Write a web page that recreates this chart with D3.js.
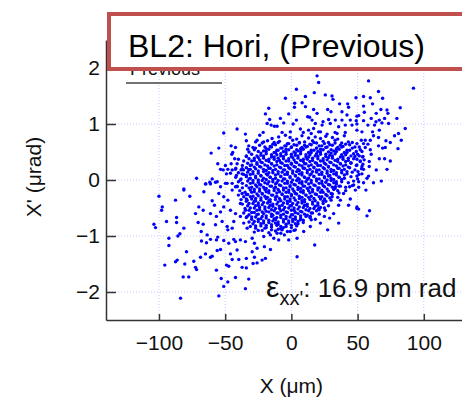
<!DOCTYPE html>
<html>
<head>
<meta charset="utf-8">
<script src="https://cdn.jsdelivr.net/npm/d3@7"></script>
<style>
  body { margin: 0; background: #fff; }
  svg { display: block; font-family: "Liberation Sans", Arial, sans-serif; }
</style>
</head>
<body>
<div id="container"></div>
<script>
const width = 462;
const height = 398;

const xTicks = [-100, -50, 0, 50, 100];
const yTicks = [-2, -1, 0, 1, 2];
const titleText = "BL2: Hori, (Previous)";
const legendText = "Previous";
const emittanceText = ": 16.9 pm rad";

// scattered points, [x (um), x' (urad)]
const outerPoints = [
  [-51.1,.84],[-41,.91],[-34.7,.82],[-34,.70],[-54.8,.57],[-60.6,.48],[-45.5,.61],[-42.2,.58],[-44.3,.49],[-45,.46],
  [-32.2,.61],[-33,.55],[-34,.43],[-42.8,.38],[-55.6,.29],[-49.8,.26],[-45.5,.29],[-53.5,.19],[-51.5,.18],[-48,.19],
  [-44.7,.18],[-42.2,.19],[-37.2,.20],[-36.2,.18],[-32.2,.19],[-49,.11],[-46,.12],[-41.5,.08],[-37.2,.11],[-34,.08],
  [-71.6,.03],[-59.8,.02],[-64.9,-.07],[-61.6,-.04],[-57.3,-.04],[-81.2,-.16],[-53.5,-.12],[-48.5,-.06],[-44.7,-.06],
  [-38.5,0],[-42.2,-.12],
  [-100,-.29],[-81.2,-.18],[-76.7,-.29],[-87.5,-.36],[-97.5,-.48],[-98,-.54],[-103.8,-.79],[-102.6,-.85],[-94.3,-.74],
  [-86.7,-.67],[-86.7,-.76],[-81.2,-.86],[-84.2,-.96],[-85.7,-1.0],[-92.5,-1.04],[-92.5,-1.17],[-95.6,-1.52],[-87.5,-1.46],
  [-86.2,-1.43],[-80.5,-1.5],[-79.2,-1.28],[-73.7,-1.45],[-72.4,-1.56],[-71.6,-1.6],[-81.7,-1.73],[-77.5,-1.73],
  [-83.7,-2.11],[-68.6,-1.38],[-64.9,-1.32],[-61.1,-1.38],[-59.8,-1.36],[-56,-1.26],[-53.5,-1.24],[-56.6,-1.61],
  [-53,-1.76],[-51.1,-1.9],[-54.8,-2.07],[-48,-1.82],[-42.2,-1.74],[-49,-1.52],[-47.3,-1.54],[-46,-1.32],[-44.7,-1.42],
  [-39.7,-1.42],[-37.2,-1.56],[-34,-1.40],[-34,-1.57],[-32.2,-1.77],[-34.7,-1.94],[-67.9,-1.09],[-64.1,-1.12],
  [-61.1,-1.06],[-56.6,-1.07],[-55.6,-1.02],[-68.1,-.92],[-63.6,-.98],[-70.4,-.76],[-66.6,-.79],[-72.4,-.60],
  [-69.9,-.48],[-66.6,-.54],[-66.1,-.21],[-61.1,-.07],[-64.6,-.07],[-59.8,-.37],[-58.1,-.45],[-61.1,-.60],[-56.6,-.65],
  [-53.5,-.57],[-51.1,-.48],[-52.3,-.74],[-57.3,-.80],[-48.5,-.83],[-48,-.89],[-44.7,-.86],[-43.5,-.74],[-51.1,-1.08],
  [-47.3,-1.13],[-43.5,-1.06],[-42.2,-1.10],[-38.5,-1.07],[-34.7,-1.10],[-41,-1.25],[-54.8,-.24],[-51.1,-.30],
  [-48,-.36],[-46,-.54],[-42.2,-.60],[-38.5,-.65],[-36,-.77],[-33.4,-.86],[-44.7,-.18],[-41,-.12],[-37.2,-.24],
  [-33.4,-.36],[-38.5,-.42],[-34.7,-.54],[-33.4,-.65],[-56,-.03],[-49.8,-.06],
  [19.4,1.86],[20.6,1.74],[3.8,1.62],[17.3,1.56],[10.6,1.49],[25.6,1.52],[30.7,1.50],[31.4,1.44],[-4.5,1.46],[2.5,1.37],
  [8.1,1.38],[36.4,1.36],[42.5,1.36],[43.2,1.30],[-17.1,1.28],[-19.6,1.18],[2.3,1.30],[10.6,1.31],[16.8,1.26],[19.4,1.19],
  [27.4,1.26],[29.9,1.22],[38.2,1.22],[42,1.16],[49.5,1.14],[-2,1.18],[12.3,1.13],[13.8,1.12],[-16.4,1.08],[-8.3,1.10],
  [-5.8,1.02],[3.8,1.07],[15.6,1.07],[18.1,1.01],[23.9,1.04],[28.1,1.08],[33.2,1.07],[38.2,1.07],[44.5,1.07],[49,1.06],
  [23.2,.98],[29.4,1.01],[35.7,.95],[40.7,.98],[45.8,.98],[-18.3,1.01],[-23.9,.80],[-21.3,.85],[-15.3,.98],[-12.8,.96],
  [-10.8,.96],[-7,.85],[1.3,1.0],[-.8,.86],[6.8,.91],[13,.89],[16.8,.92],[20.6,.86],[34.5,.83],[40.7,.85],[-27.1,.57],
  [-25.9,.71],[-20.9,.68],[-14.6,.74],[-9.6,.77],[-4.5,.80],
  [58.3,1.77],[92.2,1.64],[65.8,1.58],[68.9,1.46],[54.5,1.49],[59.6,1.47],[48.8,1.47],[54.5,1.32],[61.3,1.36],[67.6,1.26],
  [72.2,1.25],[72.9,1.19],[82.2,1.29],[64.1,1.19],[55.1,1.21],[50.8,1.15],[60.3,1.10],[63.9,1.04],[66.4,1.07],[68.4,1.02],
  [70.4,1.10],[73.4,1.01],[79.7,1.10],[54.5,1.06],[57.8,.98],[62.8,.98],[49.5,1.0],[86,.92],[66.4,.89],[49.5,.89],
  [53.3,.86],[61.3,.86],[62,.79],[80.9,.83],[77.9,.79],[65.8,.76],[83,.71],[71.4,.70],[74.7,.67],[59.6,.71],[55.8,.71],
  [52.8,.71],[49.5,.65],[54.5,.65],[57.8,.64],[51.3,.59],[55.8,.58],[65.8,.61],[68.9,.57],[70.9,.58],[80.5,.56],
  [59.6,.54],[53.3,.51],[60.3,.46],[51.3,.43],[53.8,.41],[49.5,.37],[66.4,.38],[70.4,.38],[74.7,.34],[52,.33],[58.8,.33],
  [49.5,.27],[53.3,.24],[58.8,.24],[64.1,.18],[72.2,.19],[50.3,.15],[54.5,.19],[49.5,.07],[53.3,.11],[58.3,.07],
  [57.1,.03],[54.5,-.05],[62,-.05],[67.9,-.02],[50.8,-.13],[56.3,-.18],[49.5,-.48],[50.8,-.52],[59,-.55],[57.1,-.64],
  [35.7,-.45],[37,-.36],[43.2,-.45],[49.5,-.51],[44.5,-.34],[48.3,-.18],[44,-.12],[28.9,-.68],[35.7,-.77],[27.4,-.89],
  [17.6,-1.16],[4.3,-1.37],[9.3,-.92],[-.8,-.92],[3,-.89],[14.3,-.83],[21.9,-.77],[18.1,-.70],[24.9,-.65],[-25.9,-1.48],
  [-22.1,-1.43],[-19.6,-1.40],[-28.9,-1.49],[-25.9,-1.22],[-20.4,-1.19],[-15.8,-1.24],[-27.9,-1.13],[-9.6,-1.07],
  [-13.3,-1.04],[-29.6,-1.04],[-7,-.89],[-10.8,-.95],[-15.8,-.98],[-20.9,-1.01],[-29.6,-1.28],[-27.9,-1.38],[30.7,-.30],
  [33.2,-.12],[39.4,-.24],[47,-.09],[50.8,-.03],[20.6,-.51],[25.6,-.54],[31.9,-.60],[14.3,-.65],[6.8,-.71],[4.3,-1.04],
  [-2,-1.07],[-5.3,-.98]
];

// dense core of the cloud, estimated
const corePoints = [
  [-27,.68],[-22,.66],[-18,.70],[-13,.67],[-9,.69],[-3,.65],[1,.71],[6,.67],[10,.68],[16,.70],[19,.66],[24,.69],[28,.67],[33,.71],[38,.66],[43,.68],
  [-29,.58],[-24,.62],[-20,.59],[-16,.60],[-12,.63],[-7,.57],[-4,.61],[0,.59],[4,.62],[8,.58],[12,.60],[15,.63],[19,.57],[23,.61],[27,.59],[31,.62],[35,.58],[39,.60],[44,.63],[48,.59],
  [-32,.50],[-28,.54],[-25,.51],[-21,.52],[-17,.55],[-13,.49],[-10,.53],[-6,.51],[-2,.54],[2,.50],[5,.52],[9,.55],[13,.49],[17,.53],[20,.51],[24,.54],[28,.50],[32,.52],[36,.55],[40,.49],[44,.53],[49,.51],[52,.54],
  [-34,.42],[-30,.46],[-26,.43],[-23,.44],[-19,.47],[-15,.41],[-11,.45],[-8,.43],[-4,.46],[0,.42],[3,.44],[7,.47],[11,.41],[14,.45],[18,.43],[22,.46],[26,.42],[29,.44],[33,.47],[37,.41],[41,.45],[45,.43],[50,.46],[54,.42],
  [-40,.37],[-36,.34],[-32,.38],[-28,.35],[-24,.36],[-21,.39],[-17,.33],[-13,.37],[-9,.35],[-6,.38],[-2,.34],[2,.36],[5,.39],[9,.33],[12,.37],[16,.35],[20,.38],[24,.34],[27,.36],[31,.39],[35,.33],[39,.37],[43,.35],[47,.38],[52,.34],[55,.36],
  [-41,.29],[-37,.26],[-33,.30],[-30,.27],[-26,.28],[-22,.31],[-18,.25],[-15,.29],[-11,.27],[-7,.30],[-3,.26],[0,.28],[4,.31],[8,.25],[11,.29],[15,.27],[19,.30],[22,.26],[26,.28],[30,.31],[34,.25],[37,.29],[41,.27],[45,.30],[49,.26],[54,.28],
  [-42,.21],[-38,.18],[-34,.22],[-31,.19],[-27,.20],[-23,.23],[-19,.17],[-16,.21],[-12,.19],[-8,.22],[-5,.18],[-1,.20],[3,.23],[6,.17],[10,.21],[14,.19],[17,.22],[21,.18],[25,.20],[28,.23],[32,.17],[36,.21],[40,.19],[44,.22],[48,.18],[53,.20],
  [-40,.13],[-36,.10],[-33,.14],[-29,.11],[-25,.12],[-21,.15],[-18,.09],[-14,.13],[-10,.11],[-7,.14],[-3,.10],[1,.12],[4,.15],[8,.09],[12,.13],[15,.11],[19,.14],[23,.10],[27,.12],[30,.15],[34,.09],[38,.13],[42,.11],[46,.14],[51,.10],
  [-42,.05],[-38,.02],[-34,.06],[-31,.03],[-27,.04],[-23,.07],[-19,.01],[-16,.05],[-12,.03],[-8,.06],[-5,.02],[-1,.04],[3,.07],[6,.01],[10,.05],[13,.03],[17,.06],[21,.02],[25,.04],[28,.07],[32,.01],[36,.05],[40,.03],[45,.06],[50,.02],
  [-40,-.03],[-37,-.06],[-33,-.02],[-29,-.05],[-25,-.04],[-22,-.01],[-18,-.07],[-14,-.03],[-11,-.05],[-7,-.02],[-3,-.06],[0,-.04],[4,-.01],[8,-.07],[11,-.03],[15,-.05],[19,-.02],[23,-.06],[26,-.04],[30,-.01],[34,-.07],[38,-.03],[43,-.05],[47,-.02],
  [-41,-.11],[-37,-.14],[-34,-.10],[-30,-.13],[-26,-.12],[-23,-.09],[-19,-.15],[-15,-.11],[-12,-.13],[-8,-.10],[-4,-.14],[-1,-.12],[3,-.09],[7,-.15],[10,-.11],[14,-.13],[18,-.10],[21,-.14],[25,-.12],[29,-.09],[33,-.15],[37,-.11],[41,-.13],[46,-.10],
  [-39,-.19],[-35,-.22],[-31,-.18],[-28,-.21],[-24,-.20],[-20,-.17],[-17,-.23],[-13,-.19],[-9,-.21],[-6,-.18],[-2,-.22],[2,-.20],[5,-.17],[9,-.23],[13,-.19],[16,-.21],[20,-.18],[24,-.22],[28,-.20],[32,-.17],[36,-.23],[41,-.19],
  [-40,-.27],[-36,-.30],[-33,-.26],[-29,-.29],[-25,-.28],[-22,-.25],[-18,-.31],[-14,-.27],[-11,-.29],[-7,-.26],[-3,-.30],[0,-.28],[4,-.25],[8,-.31],[11,-.27],[15,-.29],[19,-.26],[23,-.30],[27,-.28],[31,-.25],[35,-.31],
  [-38,-.35],[-34,-.38],[-30,-.34],[-27,-.37],[-23,-.36],[-19,-.33],[-16,-.39],[-12,-.35],[-8,-.37],[-5,-.34],[-1,-.38],[3,-.36],[6,-.33],[10,-.39],[14,-.35],[18,-.37],[22,-.34],[26,-.38],[30,-.36],
  [-37,-.43],[-33,-.46],[-29,-.42],[-25,-.45],[-22,-.44],[-18,-.41],[-14,-.47],[-11,-.43],[-7,-.45],[-3,-.42],[0,-.46],[4,-.44],[8,-.41],[12,-.47],[16,-.43],[20,-.45],[24,-.42],[28,-.46],
  [-35,-.51],[-32,-.54],[-28,-.50],[-24,-.53],[-20,-.52],[-17,-.49],[-13,-.55],[-9,-.51],[-6,-.53],[-2,-.50],[2,-.54],[5,-.52],[9,-.49],[13,-.55],[17,-.51],[21,-.53],[25,-.50],
  [-36,-.59],[-32,-.62],[-28,-.58],[-25,-.61],[-21,-.60],[-17,-.57],[-14,-.63],[-10,-.59],[-6,-.61],[-3,-.58],[1,-.62],[5,-.60],[8,-.57],[12,-.63],[16,-.59],[21,-.61],
  [-34,-.67],[-30,-.70],[-27,-.66],[-23,-.69],[-19,-.68],[-15,-.65],[-12,-.71],[-8,-.67],[-4,-.69],[-1,-.66],[3,-.70],[7,-.68],[11,-.65],[15,-.71],
  [-32,-.75],[-29,-.78],[-25,-.74],[-21,-.77],[-17,-.76],[-14,-.73],[-10,-.79],[-6,-.75],[-2,-.77],[1,-.74],[5,-.78],[9,-.76],
  [-31,-.83],[-27,-.86],[-23,-.82],[-19,-.85],[-15,-.84],[-11,-.81],[-8,-.87],[-4,-.83],[0,-.85],[4,-.82],
  [-28,-.93],[-22,-.90],[-17,-.94],[-12,-.91],[-8,-.95],[-3,-.92],[2,-.90]
];

// second, interleaved layer of the dense inner core, estimated
const coreFill = [
  [9,.85],[15,.83],[22,.86],[27,.82],[33,.85],
  [-1,.76],[4,.73],[8,.79],[13,.75],[18,.77],[22,.74],[26,.78],[31,.76],[35,.73],[40,.79],
  [-14,.64],[-10,.67],[-5,.61],[-2,.65],[2,.63],[6,.66],[10,.62],[14,.64],[17,.67],[21,.61],[25,.65],[29,.63],[33,.66],[37,.62],[41,.64],[46,.67],
  [-19,.56],[-15,.59],[-11,.53],[-8,.57],[-4,.55],[0,.58],[4,.54],[7,.56],[11,.59],[15,.53],[19,.57],[22,.55],[26,.58],[30,.54],[34,.56],[38,.59],[42,.53],[46,.57],
  [-23,.48],[-19,.51],[-15,.45],[-12,.49],[-8,.47],[-4,.50],[0,.46],[3,.48],[7,.51],[11,.45],[15,.49],[19,.47],[22,.50],[26,.46],[30,.48],[34,.51],[38,.45],[42,.49],[47,.47],
  [-28,.39],[-25,.40],[-21,.43],[-17,.37],[-13,.41],[-10,.39],[-6,.42],[-2,.38],[1,.40],[5,.43],[9,.37],[13,.41],[16,.39],[20,.42],[24,.38],[28,.40],[31,.43],[35,.37],[39,.41],[43,.39],[48,.42],
  [-30,.34],[-26,.31],[-23,.32],[-19,.35],[-15,.29],[-11,.33],[-8,.31],[-4,.34],[0,.30],[3,.32],[7,.35],[10,.29],[14,.33],[18,.31],[22,.34],[25,.30],[29,.32],[33,.35],[37,.29],[41,.33],[45,.31],
  [-31,.26],[-28,.23],[-24,.24],[-20,.27],[-17,.21],[-13,.25],[-9,.23],[-5,.26],[-2,.22],[2,.24],[6,.27],[9,.21],[13,.25],[17,.23],[20,.26],[24,.22],[28,.24],[32,.27],[35,.21],[39,.25],[43,.23],
  [-32,.18],[-29,.15],[-25,.16],[-21,.19],[-17,.13],[-14,.17],[-10,.15],[-6,.18],[-3,.14],[1,.16],[5,.19],[8,.13],[12,.17],[16,.15],[19,.18],[23,.14],[27,.16],[30,.19],[34,.13],[38,.17],[42,.15],
  [-31,.10],[-27,.07],[-23,.08],[-19,.11],[-16,.05],[-12,.09],[-8,.07],[-5,.10],[-1,.06],[3,.08],[6,.11],[10,.05],[14,.09],[17,.07],[21,.10],[25,.06],[29,.08],[32,.11],[36,.05],[40,.09],
  [-32,.02],[-29,-.01],[-25,0],[-21,.03],[-17,-.03],[-14,.01],[-10,-.01],[-6,.02],[-3,-.02],[1,0],[5,.03],[8,-.03],[12,.01],[15,-.01],[19,.02],[23,-.02],[27,0],[30,.03],[34,-.03],[38,.01],
  [-31,-.06],[-27,-.09],[-24,-.08],[-20,-.05],[-16,-.11],[-12,-.07],[-9,-.09],[-5,-.06],[-1,-.10],[2,-.08],[6,-.05],[9,-.11],[13,-.07],[17,-.09],[21,-.06],[24,-.10],[28,-.08],[32,-.05],[36,-.11],
  [-32,-.14],[-28,-.17],[-24,-.16],[-21,-.13],[-17,-.19],[-13,-.15],[-10,-.17],[-6,-.14],[-2,-.18],[1,-.16],[5,-.13],[9,-.19],[12,-.15],[16,-.17],[20,-.14],[23,-.18],[27,-.16],[31,-.13],[35,-.19],
  [-34,-.26],[-30,-.22],[-26,-.25],[-22,-.24],[-19,-.21],[-15,-.27],[-11,-.23],[-7,-.25],[-4,-.22],[0,-.26],[3,-.24],[7,-.21],[11,-.27],[14,-.23],[18,-.25],[22,-.22],[26,-.26],[30,-.24],
  [-34,-.34],[-31,-.30],[-27,-.33],[-23,-.32],[-20,-.29],[-16,-.35],[-12,-.31],[-9,-.33],[-5,-.30],[-1,-.34],[2,-.32],[6,-.29],[10,-.35],[13,-.31],[17,-.33],[21,-.30],[25,-.34],[29,-.32],
  [-32,-.42],[-28,-.38],[-25,-.41],[-21,-.40],[-17,-.37],[-14,-.43],[-10,-.39],[-6,-.41],[-3,-.38],[1,-.42],[5,-.40],[8,-.37],[12,-.43],[16,-.39],[20,-.41],[24,-.38],
  [-31,-.50],[-27,-.46],[-24,-.49],[-20,-.48],[-16,-.45],[-12,-.51],[-9,-.47],[-5,-.49],[-1,-.46],[2,-.50],[6,-.48],[10,-.45],[14,-.51],[18,-.47],[22,-.49],
  [-30,-.58],[-26,-.54],[-22,-.57],[-19,-.56],[-15,-.53],[-11,-.59],[-8,-.55],[-4,-.57],[0,-.54],[3,-.58],[7,-.56],[11,-.53],[15,-.59],[19,-.55],
  [-30,-.66],[-26,-.62],[-22,-.65],[-19,-.64],[-15,-.61],[-11,-.67],[-8,-.63],[-4,-.65],[0,-.62],[3,-.66],[7,-.64],[10,-.61],[14,-.67],
  [-28,-.74],[-25,-.70],[-21,-.73],[-17,-.72],[-13,-.69],[-10,-.75],[-6,-.71],[-2,-.73],[1,-.70],[5,-.74],[9,-.72],
  [-27,-.82],[-23,-.78],[-19,-.81],[-15,-.80],[-12,-.77],[-8,-.83],[-4,-.79],[0,-.81],[3,-.78],
  [-25,-.90],[-20,-.86],[-15,-.89],[-10,-.88],[-6,-.85]
];

const svg = d3.select("#container")
              .append("svg")
              .attr("width", width)
              .attr("height", height);

const x = d3.scaleLinear().domain([-140, 150]).range([106, 490]);
const y = d3.scaleLinear().domain([-2.5, 2.5]).range([320, 40]);

// dotted grid
const grid = svg.append("g")
                .attr("stroke", "#c4c8ff")
                .attr("stroke-width", 1)
                .attr("stroke-dasharray", "1,2");
grid.selectAll(".vgrid")
    .data(xTicks)
    .enter()
    .append("line")
    .attr("x1", d => x(d))
    .attr("x2", d => x(d))
    .attr("y1", y(-2.5))
    .attr("y2", y(2.5));
grid.selectAll(".hgrid")
    .data(yTicks)
    .enter()
    .append("line")
    .attr("x1", x(-140))
    .attr("x2", width)
    .attr("y1", d => y(d))
    .attr("y2", d => y(d));

// scatter
svg.append("g")
   .selectAll("circle")
   .data(outerPoints.concat(corePoints, coreFill))
   .enter()
   .append("circle")
   .attr("cx", d => x(d[0]))
   .attr("cy", d => y(d[1]))
   .attr("r", 1.7)
   .attr("fill", "#0000ff");

// axes
const xAxis = svg.append("g")
                 .attr("transform", "translate(0," + y(-2.5) + ")")
                 .call(d3.axisBottom(x).tickValues(xTicks).tickSize(-6).tickSizeOuter(0).tickPadding(15));
const yAxis = svg.append("g")
                 .attr("transform", "translate(" + x(-140) + ",0)")
                 .call(d3.axisLeft(y).tickValues(yTicks).tickFormat(d3.format("d")).tickSize(-10).tickSizeOuter(0).tickPadding(6));
[xAxis, yAxis].forEach(g => {
  g.attr("font-family", null).attr("font-size", 21);
  g.selectAll("path, line").attr("stroke", "#333").attr("stroke-width", 1.5);
  g.selectAll("text").attr("fill", "#111");
});

// axis titles
svg.append("text")
   .attr("x", x(0))
   .attr("y", 393)
   .attr("text-anchor", "middle")
   .attr("font-size", 21)
   .attr("fill", "#111")
   .text("X (\u03bcm)");
svg.append("text")
   .attr("transform", "translate(41,177) rotate(-90)")
   .attr("text-anchor", "middle")
   .attr("font-size", 21)
   .attr("fill", "#111")
   .text("X' (\u03bcrad)");

// legend (mostly covered by the title box)
svg.append("text")
   .attr("x", 130)
   .attr("y", 75)
   .attr("font-size", 18)
   .attr("fill", "#111")
   .text(legendText);
svg.append("line")
   .attr("x1", 126)
   .attr("x2", 222)
   .attr("y1", 83)
   .attr("y2", 83)
   .attr("stroke", "#444")
   .attr("stroke-width", 1.5);

// title box
svg.append("rect")
   .attr("x", 109)
   .attr("y", 14)
   .attr("width", 400)
   .attr("height", 55)
   .attr("fill", "#fff")
   .attr("stroke", "#c0504d")
   .attr("stroke-width", 4);
svg.append("text")
   .attr("x", 128)
   .attr("y", 57)
   .attr("font-size", 32)
   .attr("fill", "#000")
   .text(titleText);

// emittance annotation
const eps = svg.append("text")
               .attr("x", 266)
               .attr("y", 297)
               .attr("fill", "#111");
eps.append("tspan").attr("font-size", 30).text("\u03b5");
eps.append("tspan").attr("font-size", 20).attr("dy", 8).text("xx'");
eps.append("tspan").attr("font-size", 26).attr("dy", -8).text(emittanceText);
</script>
</body>
</html>
